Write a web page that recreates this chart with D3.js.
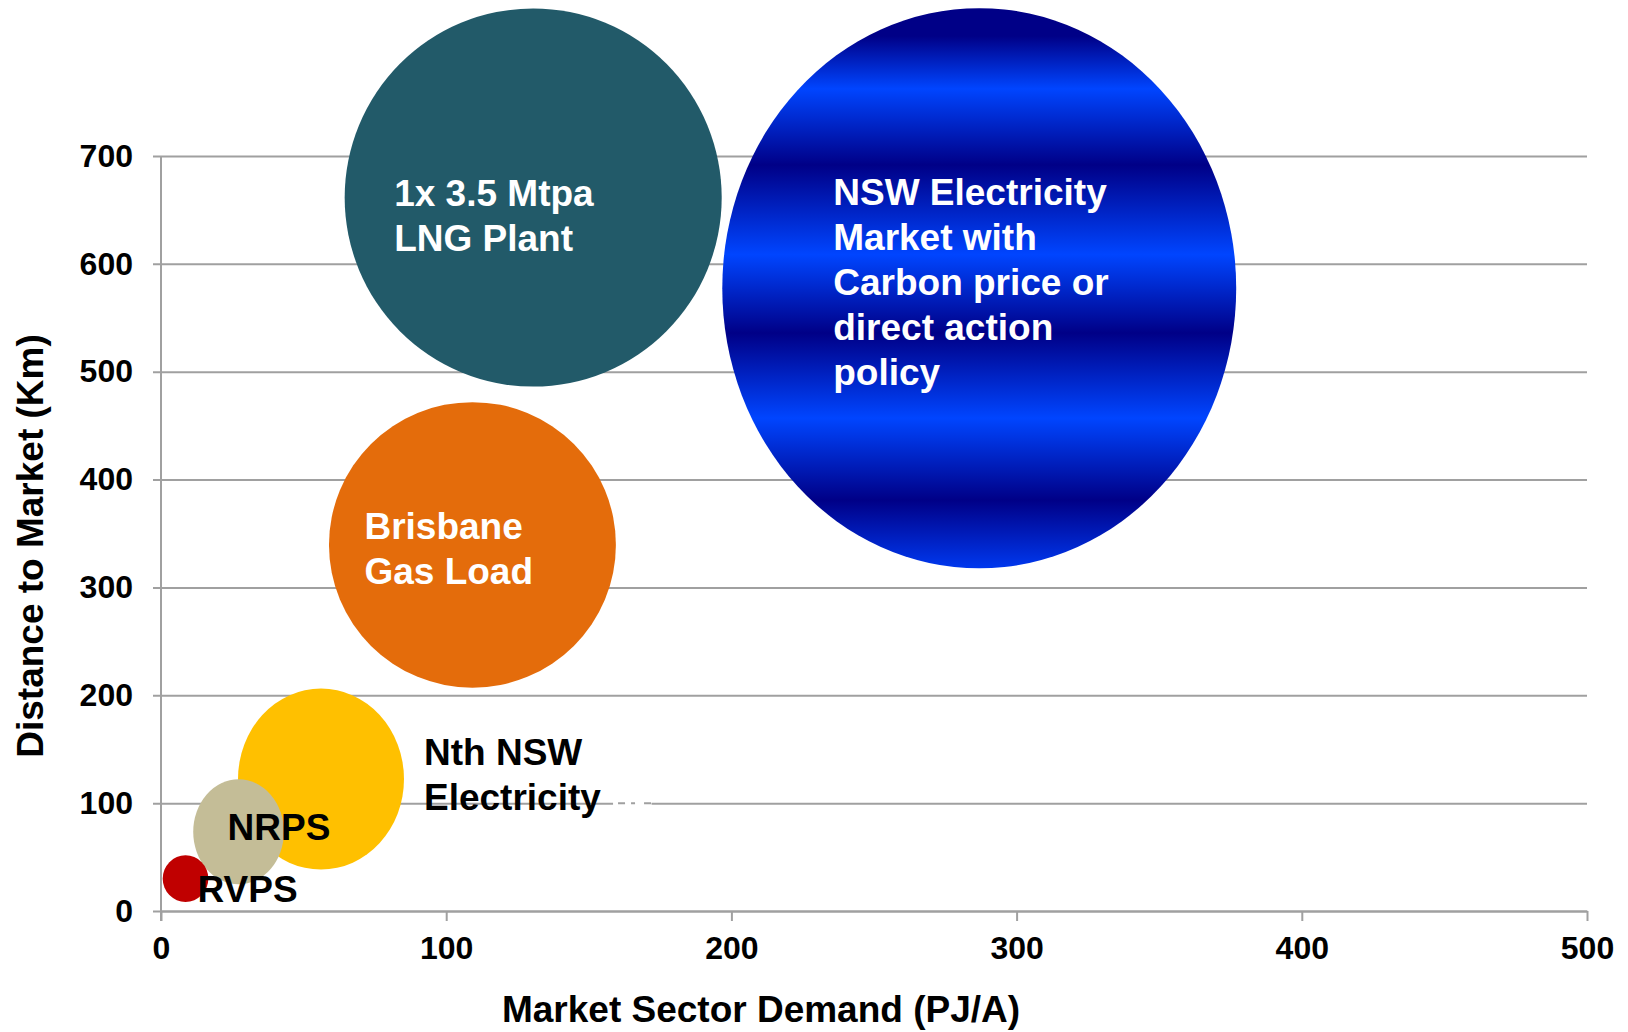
<!DOCTYPE html>
<html>
<head>
<meta charset="utf-8">
<script src="https://cdn.jsdelivr.net/npm/d3@7/dist/d3.min.js"></script>
<style>
  body { margin: 0; background: #fff; }
  svg text { font-family: "Liberation Sans", Arial, sans-serif; font-weight: bold; }
</style>
</head>
<body>
<div id="vis-container"></div>
<script>
// data
const labels = [
  ["NSW Electricity", "Market with", "Carbon price or", "direct action", "policy"],
  ["1x 3.5 Mtpa", "LNG Plant"],
  ["Brisbane", "Gas Load"],
  ["Nth NSW", "Electricity"],
  ["NRPS"],
  ["RVPS"]
];
const demand = [286.9, 130.5, 109.2, 56.1, 27.2, 8.6];       // PJ/A (bubble centre)
const distance = [577.4, 661.5, 339.4, 122.3, 73.4, 30.0];   // Km (bubble centre)
const spanDemand = [90.1, 66.1, 50.3, 29.1, 15.9, 8.0];      // half width, PJ/A
const spanDistance = [259.7, 175.3, 132.4, 83.9, 48.7, 21.6]; // half height, Km
const xTicks = [0, 100, 200, 300, 400, 500];
const yTicks = [0, 100, 200, 300, 400, 500, 600, 700];
const gapDemand = [158.5, 172]; // the broken bit of the 100 km gridline

// styling
const fills = ["url(#nswGrad)", "#225a69", "#e46c0b", "#ffc000", "#c4bd97", "#c00000"];
const textColors = ["#fff", "#fff", "#fff", "#000", "#000", "#000"];
// label offsets from bubble centre (px): [dx, dy of first baseline]
const labelOffsets = [[-146, -83], [-139, 8], [-108, -6], [103, -14], [-11, 8], [12, 23]];
const lineHeight = 45;

// set the dimensions and margins of the graph
var margin = { top: 156, right: 41, bottom: 121, left: 161 },
  width = 1628 - margin.left - margin.right,
  height = 1032 - margin.top - margin.bottom;

var svg = d3
  .select("#vis-container")
  .append("svg")
  .attr("width", 1628)
  .attr("height", 1032);

var x = d3.scaleLinear().domain([0, 500]).range([margin.left, margin.left + width]);
var y = d3.scaleLinear().domain([0, 700]).range([margin.top + height, margin.top]);

// banded blue gradient for the big bubble
const dark = "#000087", bright = "#0045ff";
const stops = [[0, dark], [0.05, dark], [0.144, bright], [0.28, dark], [0.44, bright],
  [0.58, dark], [0.732, bright], [0.878, dark], [1, "#0038ee"]];
const grad = svg.append("defs").append("linearGradient")
  .attr("id", "nswGrad")
  .attr("x1", 0).attr("y1", 0).attr("x2", 0).attr("y2", 1);
grad.selectAll("stop").data(stops).enter().append("stop")
  .attr("offset", (d) => d[0])
  .attr("stop-color", (d) => d[1]);

// gridlines + y labels
const yAxis = svg.append("g")
  .attr("transform", "translate(" + (margin.left - 8) + ",0)")
  .call(d3.axisLeft(y).tickValues(yTicks).tickSizeInner(-(width + 8)).tickSizeOuter(0).tickPadding(20));
yAxis.select(".domain").remove();
yAxis.selectAll("line").attr("stroke", "#a0a0a0").attr("stroke-width", 2);
yAxis.selectAll("text").attr("font-size", 32).attr("fill", "#000");

// x axis
const xAxis = svg.append("g")
  .attr("transform", "translate(0," + y(0) + ")")
  .call(d3.axisBottom(x).tickValues(xTicks).tickSizeInner(10).tickSizeOuter(0).tickPadding(15));
xAxis.select(".domain").attr("stroke", "#a0a0a0").attr("stroke-width", 2);
xAxis.selectAll("line").attr("stroke", "#a0a0a0").attr("stroke-width", 2);
xAxis.selectAll("text").attr("font-size", 32).attr("fill", "#000");

// y axis line
svg.append("line")
  .attr("x1", x(0)).attr("x2", x(0))
  .attr("y1", y(700)).attr("y2", y(0) + 10)
  .attr("stroke", "#a0a0a0").attr("stroke-width", 2);

// broken piece of the 100 gridline
svg.append("line")
  .attr("x1", x(gapDemand[0])).attr("x2", x(gapDemand[1]))
  .attr("y1", y(100)).attr("y2", y(100))
  .attr("stroke", "#fff").attr("stroke-width", 4);
svg.append("line")
  .attr("x1", x(gapDemand[0]) + 5).attr("x2", x(gapDemand[1]))
  .attr("y1", y(100)).attr("y2", y(100))
  .attr("stroke", "#a0a0a0").attr("stroke-width", 2)
  .attr("stroke-dasharray", "7,6,4,9");

// bubbles
const bubbles = labels.map((l, i) => ({
  lines: l, cx: demand[i], cy: distance[i], sx: spanDemand[i], sy: spanDistance[i], i: i
}));

svg.selectAll("ellipse")
  .data(bubbles)
  .enter()
  .append("ellipse")
  .attr("cx", (d) => x(d.cx))
  .attr("cy", (d) => y(d.cy))
  .attr("rx", (d) => x(d.sx) - x(0))
  .attr("ry", (d) => y(0) - y(d.sy))
  .attr("fill", (d) => fills[d.i]);

// bubble labels
svg.selectAll("text.bubble-label")
  .data(bubbles)
  .enter()
  .append("text")
  .attr("class", "bubble-label")
  .attr("font-size", 37)
  .attr("fill", (d) => textColors[d.i])
  .selectAll("tspan")
  .data((d) => d.lines.map((t, k) => ({
    text: t,
    px: x(d.cx) + labelOffsets[d.i][0],
    py: y(d.cy) + labelOffsets[d.i][1] + k * lineHeight
  })))
  .enter()
  .append("tspan")
  .attr("x", (d) => d.px)
  .attr("y", (d) => d.py)
  .text((d) => d.text);

// axis titles
svg.append("text")
  .attr("x", 761)
  .attr("y", 1022)
  .attr("text-anchor", "middle")
  .attr("font-size", 37)
  .text("Market Sector Demand (PJ/A)");

svg.append("text")
  .attr("transform", "translate(43,546) rotate(-90)")
  .attr("text-anchor", "middle")
  .attr("font-size", 37)
  .text("Distance to Market (Km)");
</script>
</body>
</html>
